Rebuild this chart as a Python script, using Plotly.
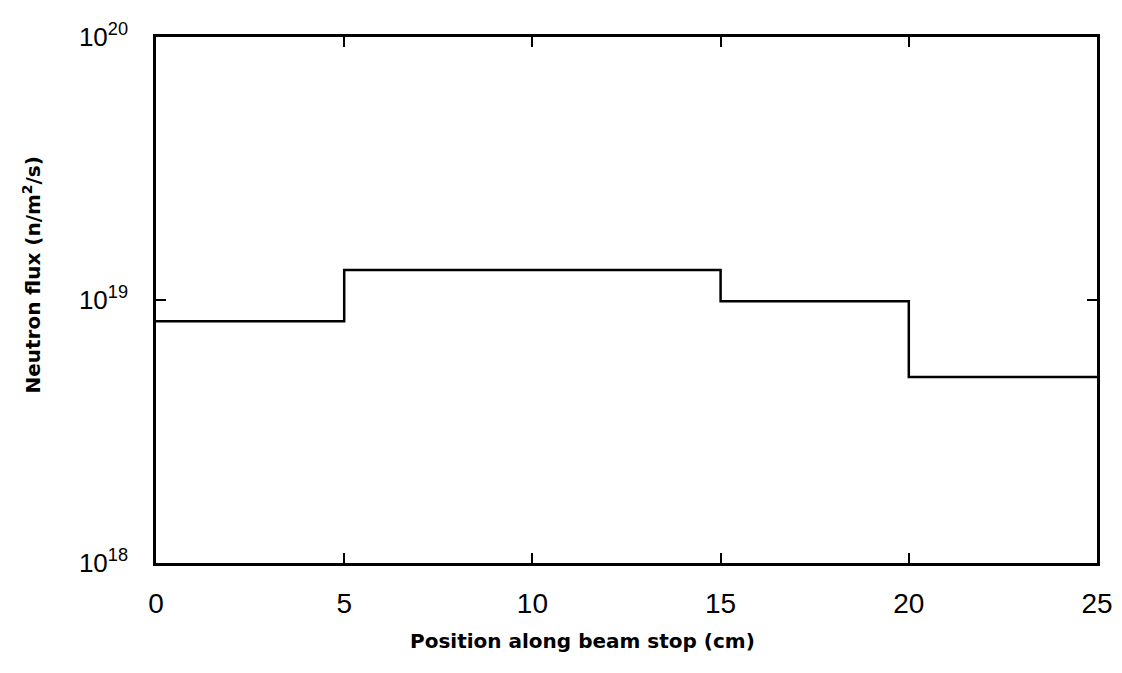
import plotly.graph_objects as go

# Data: piecewise-constant neutron flux along beam stop
bin_edges = [0, 5, 15, 20, 25]          # cm
flux_values = [8.3e18, 1.30e19, 0.99e19, 5.1e18]  # n/m^2/s per bin

x_tick_vals = [0, 5, 10, 15, 20, 25]
x_tick_text = ["0", "5", "10", "15", "20", "25"]
y_tick_vals = [1e18, 1e19, 1e20]
y_tick_text = ["10<sup>18</sup>", "10<sup>19</sup>", "10<sup>20</sup>"]

step_x = bin_edges
step_y = flux_values + [flux_values[-1]]

fig = go.Figure()
fig.add_trace(go.Scatter(
    x=step_x, y=step_y, mode="lines", line_shape="hv",
    line=dict(color="black", width=2.5), showlegend=False,
))

fig.update_xaxes(
    range=[0, 25], tickvals=x_tick_vals, ticktext=x_tick_text,
    ticks="inside", ticklen=10, tickwidth=1.5,
    tickcolor="black", showline=True, linecolor="black", linewidth=2.5, mirror="ticks",
    showgrid=False, zeroline=False, ticklabelstandoff=14, automargin=False,
    tickfont=dict(family="Liberation Sans, Arial, sans-serif", size=28, color="black"),
)
fig.update_yaxes(
    type="log", range=[18, 20], tickvals=y_tick_vals, ticktext=y_tick_text,
    ticks="inside", ticklen=10, tickwidth=1.5, tickcolor="black",
    showline=True, linecolor="black", linewidth=2.5, mirror="ticks",
    showgrid=False, zeroline=False, ticklabelstandoff=20, automargin=False,
    tickfont=dict(family="Liberation Sans, Arial, sans-serif", size=26, color="black"),
)

title_font = dict(family="DejaVu Sans, sans-serif", size=20, color="black")
fig.update_layout(
    width=1106, height=657,
    margin=dict(l=148, r=17, t=29, b=102),
    paper_bgcolor="white", plot_bgcolor="white",
    annotations=[
        dict(text="<b>Position along beam stop (cm)</b>", xref="paper", yref="paper",
             x=0.453, y=-0.148, xanchor="center", yanchor="middle", showarrow=False,
             font=title_font),
        dict(text="<b>Neutron flux (n/m<sup>2</sup>/s)</b>", xref="paper", yref="paper",
             x=-0.132, y=0.548, xanchor="center", yanchor="middle", textangle=-90,
             showarrow=False, font=title_font),
    ],
)

fig.write_html("out.html")
